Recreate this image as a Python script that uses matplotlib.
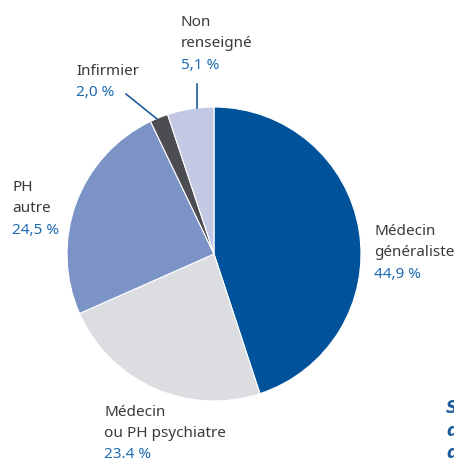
import matplotlib.pyplot as plt

categories = ["Médecin\ngénéraliste", "Médecin\nou PH psychiatre", "PH\nautre", "Infirmier", "Non\nrenseigné"]
shares = [44.9, 23.4, 24.5, 2.0, 5.1]
pct_labels = ["44,9 %", "23.4 %", "24,5 %", "2,0 %", "5,1 %"]
colors = ["#00529B", "#DCDDE0", "#7B93C6", "#4B4D51", "#C3C8E4"]

W, H = 454, 461
fig = plt.figure(figsize=(W / 100, H / 100), dpi=100)
ax = fig.add_axes([0, 0, 1, 1])

cx, cy, r = 214, H - 254, 147
ax.pie(shares, colors=colors, startangle=90, counterclock=False,
       center=(cx, cy), radius=r, frame=True,
       wedgeprops=dict(edgecolor="white", linewidth=0.8))
ax.set_xlim(0, W)
ax.set_ylim(0, H)
ax.set_aspect("equal")
ax.axis("off")

font = "Noto Sans"
text_col = "#3A3A3A"
pct_col = "#1F6BB3"
fs = 11
line_h = 21.5

# label anchor positions (left x, top-line centre y in pixels from top)
label_pos = [(374, 231), (104, 412), (12, 187), (76, 71), (181, 22)]
for cat, pct, (x, y) in zip(categories, pct_labels, label_pos):
    lines = cat.split("\n")
    for i, ln in enumerate(lines):
        ax.text(x, H - (y + i * line_h), ln, fontsize=fs, color=text_col,
                family=font, va="center", ha="left")
    ax.text(x, H - (y + len(lines) * line_h), pct, fontsize=fs, color=pct_col,
            family=font, va="center", ha="left")

# leader lines
ax.plot([126, 157], [H - 94, H - 119], color="#1F5C9E", lw=1.2)
ax.plot([197, 197], [H - 84, H - 108], color="#1F5C9E", lw=1.2)

# cut-off text at bottom right
for s, yy in zip(["S", "d", "d"], [408, 431, 453]):
    ax.text(446, H - yy, s, fontsize=12, color="#1F5C9E", family="DejaVu Sans",
            weight="bold", style="italic", va="center", ha="left")

fig.savefig("out.png", dpi=100)
